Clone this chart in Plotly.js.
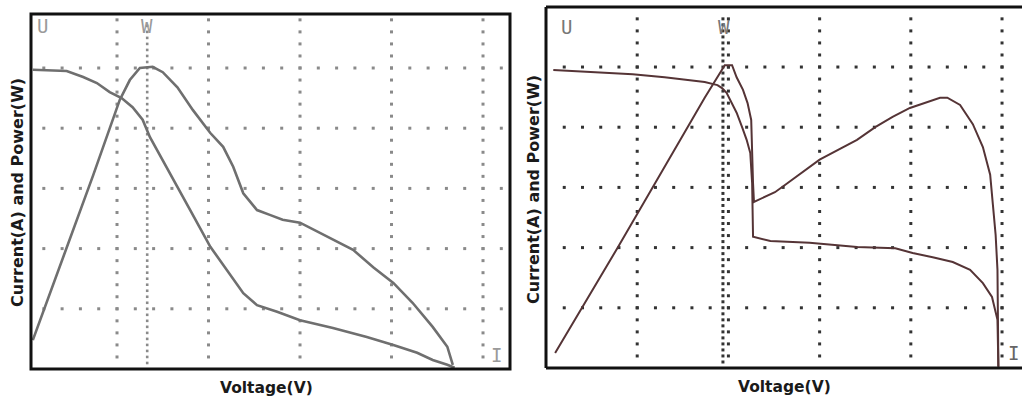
<!DOCTYPE html>
<html><head><meta charset="utf-8">
<script src="https://cdn.plot.ly/plotly-3.0.1.min.js"></script>
<style>html,body{margin:0;padding:0;background:#fff;}#chart{width:1022px;height:403px;}</style>
</head><body><div id="chart"></div>
<script>
// ---- Data (units: screen divisions of the oscilloscope graticule) ----
// Left panel
const leftCurrentV = [0.08,0.45,0.63,0.78,0.92,1.05,1.17,1.28,1.36,1.50,1.66,1.80,2.02,2.20,2.38,2.53,2.75,3.00,3.36,3.73,4.02,4.28,4.45,4.61,4.69];
const leftCurrentA = [4.97,4.95,4.85,4.75,4.60,4.50,4.35,4.14,3.85,3.47,3.02,2.64,2.03,1.64,1.26,1.06,0.95,0.81,0.68,0.53,0.40,0.27,0.15,0.07,0.02];
const leftPowerV = [0.08,0.41,0.74,1.03,1.14,1.25,1.39,1.50,1.66,1.83,2.02,2.16,2.27,2.38,2.53,2.67,2.81,3.00,3.19,3.36,3.58,3.80,4.02,4.23,4.45,4.61,4.67];
const leftPowerW = [0.48,1.86,3.22,4.47,4.80,5.00,5.02,4.93,4.68,4.30,3.92,3.69,3.36,2.92,2.64,2.56,2.48,2.43,2.28,2.14,1.98,1.69,1.43,1.10,0.70,0.37,0.07];
// Right panel
const rightCurrentV = [0.08,0.48,0.95,1.30,1.58,1.74,1.88,1.93,1.98,2.04,2.09,2.15,2.20,2.24,2.26,2.27,2.32,2.46,2.89,3.41,3.83,4.02,4.24,4.46,4.65,4.79,4.89,4.92,4.95,4.96];
const rightCurrentA = [4.95,4.92,4.88,4.83,4.78,4.75,4.70,4.65,4.57,4.40,4.24,4.00,3.79,3.57,3.07,2.18,2.16,2.11,2.08,2.01,1.99,1.91,1.84,1.76,1.63,1.41,1.18,1.00,0.80,0.02];
const rightPowerV = [0.10,0.79,1.74,1.91,1.96,2.04,2.09,2.16,2.21,2.25,2.26,2.27,2.28,2.32,2.40,2.51,2.62,3.00,3.41,3.61,3.80,3.99,4.32,4.40,4.54,4.68,4.79,4.87,4.90,4.93,4.95,4.96];
const rightPowerW = [0.25,2.01,4.49,4.92,5.03,5.03,4.83,4.62,4.40,4.12,3.46,3.07,2.76,2.79,2.84,2.92,3.04,3.46,3.79,4.00,4.17,4.32,4.49,4.49,4.37,4.05,3.67,3.21,2.71,2.21,1.63,0.02];
// Graticule and cursor labels
const gridDivs = [1,2,3,4,5];
const leftCursorV = 1.33;
const rightCursorV = 1.94;
const markerLabels = ["U","W","I"];
const xTitle = "Voltage(V)";
const yTitle = "Current(A) and Power(W)";

// ---- Axis ranges / domains ----
const W = 1022, H = 403;
const L = {x0:31, x1:510, yTop:14, yBot:369, xr:[0.06,5.295], yr:[0,5.897]};
const R = {x0:546, x1:1021, yTop:7, yBot:368, xr:[0,5.208], yr:[0,5.997]};

function graticule(xr, yr, cursors){
  const xs=[], ys=[];
  const cx=[], cy=[];
  gridDivs.forEach(g=>{
    if(g<yr[1]) for(let k=1;k*0.2<xr[1]-0.05;k++){ const x=k*0.2; if(x>xr[0]+0.05){xs.push(x);ys.push(g);} }
  });
  gridDivs.forEach(g=>{
    if(g<xr[1]) for(let k=1;k*0.2<yr[1]-0.05;k++){ xs.push(g); ys.push(k*0.2); }
  });
  cursors.forEach(c=>{ for(let k=1;k*0.1<yr[1]-0.1;k++){ cx.push(c); cy.push(k*0.1);} });
  return {xs,ys,cx,cy};
}
const gL = graticule(L.xr, L.yr, [leftCursorV]);
const gR = graticule(R.xr, R.yr, [rightCursorV]);

const leftLine = {color:'#6f6f6f', width:2.6};
const rightLine = {color:'#553436', width:2};

const traces = [
  {x:gL.xs,y:gL.ys,xaxis:'x',yaxis:'y',mode:'markers',type:'scatter',marker:{symbol:'square',size:3,color:'#8a8a8a'},hoverinfo:'skip'},
  {x:gL.cx,y:gL.cy,xaxis:'x',yaxis:'y',mode:'markers',type:'scatter',marker:{symbol:'square',size:2.6,color:'#8a8a8a'},hoverinfo:'skip'},
  {x:gR.xs,y:gR.ys,xaxis:'x2',yaxis:'y2',mode:'markers',type:'scatter',marker:{symbol:'square',size:3,color:'#333'},hoverinfo:'skip'},
  {x:gR.cx,y:gR.cy,xaxis:'x2',yaxis:'y2',mode:'markers',type:'scatter',marker:{symbol:'square',size:3,color:'#333'},hoverinfo:'skip'},
  {name:'Current',x:leftCurrentV,y:leftCurrentA,xaxis:'x',yaxis:'y',mode:'lines',type:'scatter',line:leftLine},
  {name:'Power',x:leftPowerV,y:leftPowerW,xaxis:'x',yaxis:'y',mode:'lines',type:'scatter',line:leftLine},
  {name:'Current',x:rightCurrentV,y:rightCurrentA,xaxis:'x2',yaxis:'y2',mode:'lines',type:'scatter',line:rightLine},
  {name:'Power',x:rightPowerV,y:rightPowerW,xaxis:'x2',yaxis:'y2',mode:'lines',type:'scatter',line:rightLine}
];

function ax(P, anchor){
  return {domain:[P.x0/W, Math.min(P.x1/W,1)], range:P.xr, anchor:anchor, showgrid:false, zeroline:false,
          showticklabels:false, ticks:'', showline:false, fixedrange:true};
}
function ay(P, anchor){
  return {domain:[1-P.yBot/H, 1-P.yTop/H], range:P.yr, anchor:anchor, showgrid:false, zeroline:false,
          showticklabels:false, ticks:'', showline:false, fixedrange:true};
}
const px=(x)=>x/W, py=(y)=>1-y/H;
const titleFont = {family:'DejaVu Sans, Verdana, sans-serif', size:16, color:'#1a1a1a'};
const labFont = {family:'DejaVu Sans Mono, monospace', size:19, color:'#9a9a9a'};
const ann = [
  {text:'<b>'+yTitle+'</b>', x:px(17), y:py(193), textangle:-90, font:titleFont},
  {text:'<b>'+yTitle+'</b>', x:px(533), y:py(190), textangle:-90, font:titleFont},
  {text:'<b>'+xTitle+'</b>', x:px(266), y:py(388), font:{...titleFont,size:15.5}},
  {text:'<b>'+xTitle+'</b>', x:px(784), y:py(387), font:{...titleFont,size:15.5}},
  {text:markerLabels[0], x:px(42), y:py(26), font:labFont},
  {text:markerLabels[1], x:px(147), y:py(26), font:labFont},
  {text:markerLabels[2], x:px(496), y:py(355), font:labFont},
  {text:markerLabels[0], x:px(566), y:py(27), font:{...labFont,color:'#777'}},
  {text:markerLabels[1], x:px(724), y:py(27), font:{...labFont,color:'#777'}},
  {text:markerLabels[2], x:px(1013), y:py(353), font:{...labFont,color:'#666'}}
].map(a=>Object.assign({xref:'paper',yref:'paper',showarrow:false,xanchor:'center',yanchor:'middle'},a));

const frame = {color:'#111', width:3};
const shapes = [
  {type:'rect', xref:'x domain', yref:'y domain', x0:0,x1:1,y0:0,y1:1, line:frame},
  {type:'line', xref:'x2 domain', yref:'y2 domain', x0:0,x1:0,y0:0,y1:1, line:frame},
  {type:'line', xref:'x2 domain', yref:'y2 domain', x0:0,x1:1.01,y0:1,y1:1, line:frame},
  {type:'line', xref:'x2 domain', yref:'y2 domain', x0:0,x1:1.01,y0:0,y1:0, line:frame}
];

const layout = {
  width:W, height:H, margin:{l:0,r:0,t:0,b:0}, showlegend:false,
  paper_bgcolor:'#fff', plot_bgcolor:'#fff',
  xaxis:ax(L,'y'), yaxis:ay(L,'x'),
  xaxis2:ax(R,'y2'), yaxis2:ay(R,'x2'),
  annotations:ann, shapes:shapes
};
Plotly.newPlot('chart', traces, layout, {staticPlot:true, displayModeBar:false});
</script>
</body></html>
